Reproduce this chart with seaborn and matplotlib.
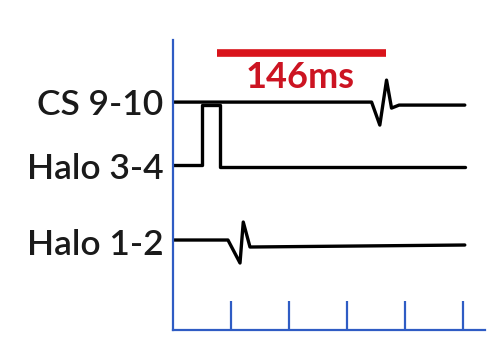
import numpy as np
import pandas as pd
import matplotlib
matplotlib.use("Agg")
import matplotlib.pyplot as plt
import seaborn as sns

# traces: time (ms) and vertical position (arbitrary units)
cs_t = [0, 171.3, 178.4, 184.2, 188.5, 195, 251.7]
cs_v = [22.8, 22.8, 20.5, 25.0, 22.2, 22.5, 22.5]

halo34_t = [0, 24.7, 24.7, 40.5, 40.5, 251.7]
halo34_v = [16.5, 16.5, 22.5, 22.5, 16.3, 16.3]

halo12_t = [0, 47.4, 57.8, 60.6, 66.4, 251.7]
halo12_v = [9.0, 9.0, 6.7, 10.8, 8.3, 8.5]

channel_names = ["CS 9-10", "Halo 3-4", "Halo 1-2"]
channel_levels = [22.8, 16.4, 8.8]

time_ticks = [50, 100, 150, 200, 250]
interval_start = 38
interval_ms = 146

sns.set_style("white")
plt.rcParams["font.family"] = ["Lato", "DejaVu Sans"]

fig = plt.figure(figsize=(4.95, 3.43), dpi=100)
ax = fig.add_axes([0.3495, 0.038, 0.63, 0.845])

for t, v in [(cs_t, cs_v), (halo34_t, halo34_v), (halo12_t, halo12_v)]:
    df = pd.DataFrame({"t": t, "v": v})
    sns.lineplot(data=df, x="t", y="v", sort=False, estimator=None,
                 color="black", linewidth=2.4, ax=ax)

# interval bar
ax.plot([interval_start, interval_start + interval_ms], [27.75, 27.75],
        color="#d9141b", linewidth=5.5, solid_capstyle="butt")
ax.text(interval_start + interval_ms / 2 - 1, 25.3, f"{interval_ms}ms",
        color="#cc1422", fontsize=26, fontweight="bold",
        ha="center", va="center")

ax.set_xlim(0, 269)
ax.set_ylim(0, 29)
ax.set_xticks(time_ticks)
ax.set_xticklabels([])
ax.set_yticks(channel_levels)
ax.set_yticklabels(channel_names, fontsize=25.5, fontweight="semibold", color="#1a1a1a")
ax.set_xlabel("")
ax.set_ylabel("")

blue = "#2f5cc4"
for side in ["top", "right"]:
    ax.spines[side].set_visible(False)
for side in ["left", "bottom"]:
    ax.spines[side].set_color(blue)
    ax.spines[side].set_linewidth(1.6)
ax.tick_params(axis="x", direction="in", length=21, width=1.6, color=blue, bottom=True)
ax.tick_params(axis="y", length=0, pad=7)

fig.savefig("out.png", dpi=100)
